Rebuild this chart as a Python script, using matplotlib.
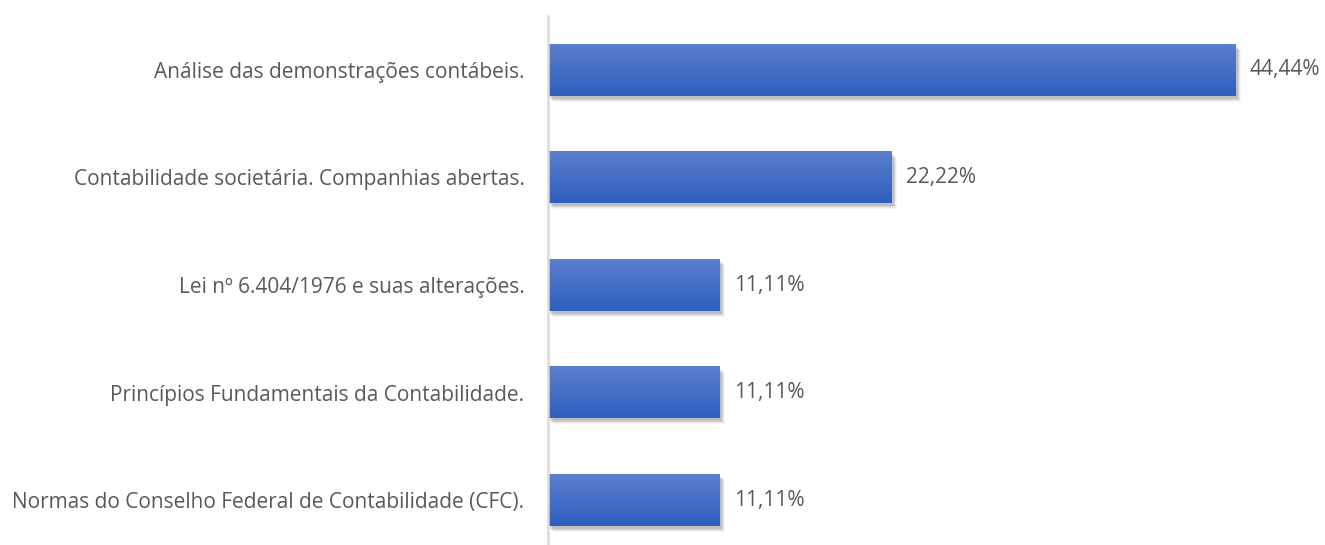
import numpy as np
import matplotlib.pyplot as plt
from matplotlib import transforms

categories = [
    "Análise das demonstrações contábeis.",
    "Contabilidade societária. Companhias abertas.",
    "Lei nº 6.404/1976 e suas alterações.",
    "Princípios Fundamentais da Contabilidade.",
    "Normas do Conselho Federal de Contabilidade (CFC).",
]
values = [44.44, 22.22, 11.11, 11.11, 11.11]
value_labels = ["44,44%", "22,22%", "11,11%", "11,11%", "11,11%"]

plt.rcParams["font.family"] = ["Open Sans", "DejaVu Sans"]
text_color = "#595959"

fig = plt.figure(figsize=(13.25, 5.45), dpi=100)
ax = fig.add_axes([548 / 1325, -9 / 545, 774 / 1325, 538 / 545])

y = np.arange(len(categories))
bars = ax.barh(y, values, height=0.48, color="none", zorder=3)

# vertical gradient from light blue at top to darker blue at bottom
grad = np.linspace(0, 1, 64).reshape(-1, 1)
cmap = plt.matplotlib.colors.LinearSegmentedColormap.from_list(
    "blue_grad", ["#5B80CD", "#2E5EBE"])

for bar in bars:
    x0, y0 = bar.get_x(), bar.get_y()
    w, h = bar.get_width(), bar.get_height()
    # soft shadow, offset down/right
    for i, a in enumerate([0.10, 0.08, 0.06, 0.04]):
        off = transforms.offset_copy(ax.transData, fig=fig,
                                     x=(2 + i) / 100, y=-(3 + i) / 100,
                                     units="inches")
        sh = plt.Rectangle((x0, y0), w, h, transform=off, color="black",
                           alpha=a, lw=0, zorder=1)
        ax.add_patch(sh)
    ax.imshow(grad, cmap=cmap, aspect="auto", extent=(x0, x0 + w, y0 + h, y0),
              zorder=2, interpolation="bilinear")

ax.set_xlim(0, 50)
ax.set_ylim(len(categories) - 0.5, -0.5)

for yi, v, lab in zip(y, values, value_labels):
    ax.annotate(lab, (v, yi), xytext=(10, 0), textcoords="offset points",
                va="center", ha="left", fontsize=15, color=text_color)

ax.set_yticks(y)
ax.set_yticklabels(categories, fontsize=15, color=text_color)
ax.tick_params(axis="y", length=0, pad=17)
ax.set_xticks([])

for s in ["top", "right", "bottom"]:
    ax.spines[s].set_visible(False)
ax.spines["left"].set_color("#D9D9D9")
ax.spines["left"].set_linewidth(1.8)
ax.spines["left"].set_zorder(5)

fig.savefig("out.png", dpi=100)
